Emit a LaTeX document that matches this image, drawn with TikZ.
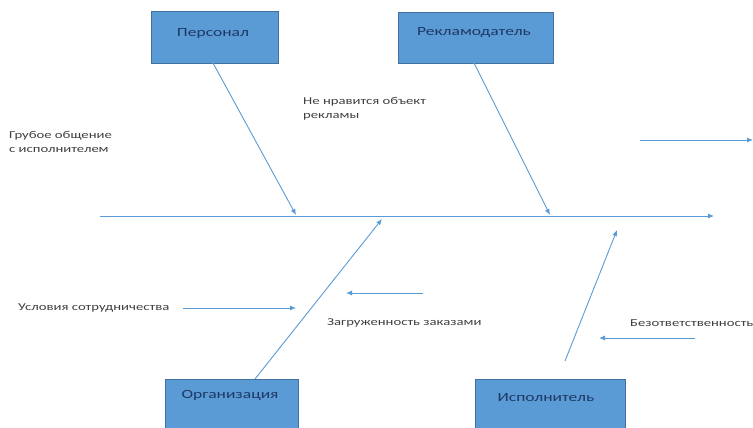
\documentclass[tikz,border=0pt]{standalone}
\usepackage{fontspec}
\setmainfont{Carlito}[FakeStretch=1.4]
\usetikzlibrary{arrows.meta}
\definecolor{boxfill}{HTML}{5B9BD5}
\definecolor{boxline}{HTML}{41719C}
\definecolor{linec}{HTML}{5B9BD5}
\definecolor{txt}{HTML}{404040}
\definecolor{boxtxt}{HTML}{1F3864}
\tikzset{
  cat/.style={draw=boxline, line width=1pt, fill=boxfill, inner sep=0pt},
  cattxt/.style={text=boxtxt, font=\fontsize{12.5}{15}\selectfont, inner sep=0pt},
  lbl/.style={text=txt, font=\fontsize{10.5}{14}\selectfont, inner sep=0pt, anchor=west, align=left},
  conn/.style={draw=linec, line width=0.9pt, -{Latex[length=6pt,width=5pt]}},
}
\begin{document}
\begin{tikzpicture}[x=1pt,y=-1pt]
\useasboundingbox[fill=white] (0,0) rectangle (753,428);
% category boxes
\node[cat, minimum width=127pt, minimum height=52pt, anchor=north west] (pers) at (151,11) {};
\node[cattxt] (perst) at (213,33) {Персонал};
\node[cat, minimum width=155pt, minimum height=51pt, anchor=north west] (rekl) at (398,12) {};
\node[cattxt] (reklt) at (474,33) {Рекламодатель};
\node[cat, minimum width=133pt, minimum height=60pt, anchor=north west] (org) at (165,379) {};
\node[cattxt] (orgt) at (230,395) {Организация};
\node[cat, minimum width=150pt, minimum height=60pt, anchor=north west] (isp) at (475,379) {};
\node[cattxt] (ispt) at (546,398) {Исполнитель};
% spine
\coordinate (s0) at (100,216);
\coordinate (s1) at (714,216);
\draw[conn] (s0) -- (s1);
% bones
\coordinate (p1) at (213,63);
\coordinate (p2) at (296,215);
\draw[conn] (p1) -- (p2);
\coordinate (r1) at (474,63);
\coordinate (r2) at (550,215);
\draw[conn] (r1) -- (r2);
\coordinate (o1) at (255,379);
\coordinate (o2) at (382,219);
\draw[conn] (o1) -- (o2);
\coordinate (i1) at (565,361);
\coordinate (i2) at (617,230);
\draw[conn] (i1) -- (i2);
% small arrows
\coordinate (a1) at (640,140);
\coordinate (a2) at (753,140);
\draw[conn] (a1) -- (a2);
\coordinate (b1) at (183,308);
\coordinate (b2) at (296,308);
\draw[conn] (b1) -- (b2);
\coordinate (c1) at (423,293);
\coordinate (c2) at (346,293);
\draw[conn] (c1) -- (c2);
\coordinate (d1) at (695,338);
\coordinate (d2) at (599,338);
\draw[conn] (d1) -- (d2);
% labels
\node[lbl] (t1) at (9,142) {Грубое общение\\с исполнителем};
\node[lbl] (t2) at (303,109) {Не нравится объект\\рекламы};
\node[lbl] (t3) at (18,308) {Условия сотрудничества};
\node[lbl] (t4) at (327,323) {Загруженность заказами};
\node[lbl] (t5) at (630,323) {Безответственность};
\end{tikzpicture}
\end{document}
